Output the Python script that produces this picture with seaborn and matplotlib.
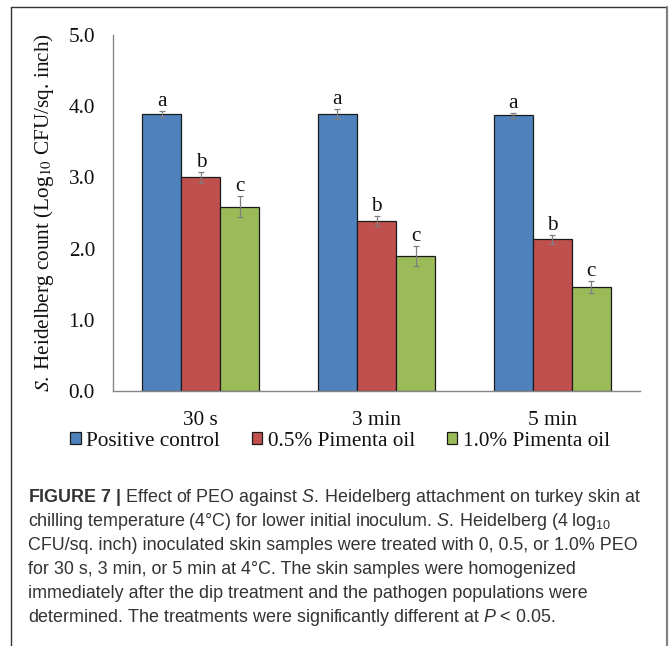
import numpy as np
import pandas as pd
import matplotlib
matplotlib.use("Agg")
import matplotlib.pyplot as plt
from matplotlib.lines import Line2D
from matplotlib.patches import Patch
import seaborn as sns

# Dip times and treatments
times = ["30 s", "3 min", "5 min"]
treatments = ["Positive control", "0.5% Pimenta oil", "1.0% Pimenta oil"]

# Mean S. Heidelberg counts (log10 CFU/sq. inch)
control_mean = [3.89, 3.89, 3.87]
pimenta05_mean = [3.00, 2.39, 2.13]
pimenta10_mean = [2.59, 1.90, 1.46]

# Error bar half-lengths
control_err = [0.045, 0.07, 0.037]
pimenta05_err = [0.075, 0.07, 0.068]
pimenta10_err = [0.15, 0.14, 0.09]

# Significance letters
control_letters = ["a", "a", "a"]
pimenta05_letters = ["b", "b", "b"]
pimenta10_letters = ["c", "c", "c"]

yticks = [0.0, 1.0, 2.0, 3.0, 4.0, 5.0]
colors = ["#4F81BD", "#C0504D", "#9BBB59"]

caption_lines = [
    r"$\mathbf{FIGURE\ 7\ |}$ Effect of PEO against $\mathit{S.}\:$Heidelberg attachment on turkey skin at",
    r"chilling temperature (4°C) for lower initial inoculum. $\mathit{S.}\:$Heidelberg (4 log$_{10}$",
    "CFU/sq. inch) inoculated skin samples were treated with 0, 0.5, or 1.0% PEO",
    "for 30 s, 3 min, or 5 min at 4°C. The skin samples were homogenized",
    "immediately after the dip treatment and the pathogen populations were",
    r"determined. The treatments were significantly different at $\mathit{P}$ < 0.05.",
]

sns.set_theme(style="white")
plt.rcParams["font.family"] = ["Liberation Serif", "DejaVu Serif"]
plt.rcParams["mathtext.fontset"] = "custom"
plt.rcParams["mathtext.rm"] = "Liberation Sans"
plt.rcParams["mathtext.it"] = "Liberation Sans:italic"
plt.rcParams["mathtext.bf"] = "Liberation Sans:bold"

W, H = 670, 646
fig = plt.figure(figsize=(W / 100, H / 100), dpi=100)
ax = fig.add_axes([113 / W, (H - 391) / H, 527 / W, 356 / H])

df = pd.DataFrame({
    "time": times * 3,
    "treatment": np.repeat(treatments, 3),
    "count": control_mean + pimenta05_mean + pimenta10_mean,
})

sns.barplot(data=df, x="time", y="count", hue="treatment", palette=colors,
            hue_order=treatments, order=times, width=0.667, gap=0,
            edgecolor="#1a1a1a", linewidth=0.9, errorbar=None,
            legend=False, saturation=1, ax=ax)

errs = [control_err, pimenta05_err, pimenta10_err]
letters = [control_letters, pimenta05_letters, pimenta10_letters]
for cont, err, lab in zip(ax.containers, errs, letters):
    for bar, e, l in zip(cont.patches, err, lab):
        xc = bar.get_x() + bar.get_width() / 2
        h = bar.get_height()
        ax.errorbar(xc, h, yerr=e, fmt="none", ecolor="#7f7f7f",
                    elinewidth=0.9, capsize=2.3, capthick=0.9, zorder=5)
        ax.annotate(l, (xc, h + e), xytext=(0, 0), textcoords="offset points",
                    ha="center", va="bottom", fontsize=15.3, color="#111111")

ax.set_xlim(-0.5, 2.5)
ax.set_ylim(0, 5)
ax.set_yticks(yticks)
ax.set_yticklabels([f"{v:.1f}" for v in yticks])
ax.tick_params(axis="both", length=0, labelsize=15.3, colors="#111111")
ax.tick_params(axis="y", pad=13)
ax.tick_params(axis="x", pad=14.5)
ax.set_xlabel("")
for s in ["top", "right"]:
    ax.spines[s].set_visible(False)
for s in ["left", "bottom"]:
    ax.spines[s].set_color("#868686")
    ax.spines[s].set_linewidth(1.0)

ylab = ax.set_ylabel(r"$\mathit{S.}\:$Heidelberg count (Log$_{10}$ CFU/sq. inch)",
                     fontsize=15.3, color="#111111")
ylab.set_math_fontfamily("stix")
ax.yaxis.set_label_coords(-0.108, 0.5)

handles = [Patch(facecolor=c, edgecolor="#1a1a1a", linewidth=0.9) for c in colors]
fig.legend(handles, treatments, loc="center", bbox_to_anchor=(340 / W, 1 - 441 / H),
           ncol=3, frameon=False, fontsize=15.3, handlelength=0.5, handleheight=0.5,
           handletextpad=0.25, columnspacing=1.5, borderpad=0, borderaxespad=0,
           labelcolor="#111111")

# Caption block
baselines = [502, 526, 550, 574, 598, 622]
for line, yb in zip(caption_lines, baselines):
    fig.text(28 / W, 1 - yb / H, line, ha="left", va="baseline",
             fontsize=12.9, color="#333333", family=["Liberation Sans", "DejaVu Sans"])

# Outer frame around the figure
fig.add_artist(Line2D([11 / W, 11 / W], [0, 1 - 7 / H], transform=fig.transFigure,
                      color="#333333", lw=1.0))
fig.add_artist(Line2D([11 / W, 667 / W], [1 - 7 / H, 1 - 7 / H], transform=fig.transFigure,
                      color="#333333", lw=1.0))
fig.add_artist(Line2D([667 / W, 667 / W], [0, 1 - 7 / H], transform=fig.transFigure,
                      color="#808080", lw=1.6))

fig.savefig("out.png", dpi=100)
